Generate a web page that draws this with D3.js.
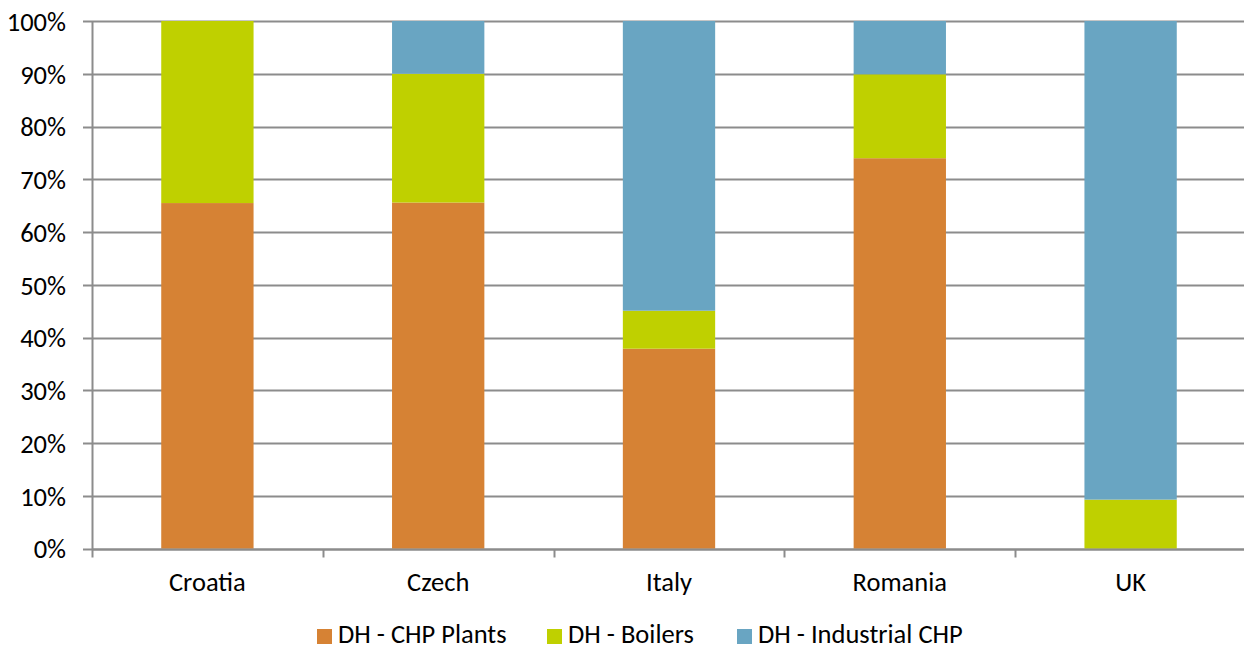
<!DOCTYPE html>
<html>
<head>
<meta charset="utf-8">
<script src="https://cdn.jsdelivr.net/npm/d3@7"></script>
<style>
  html, body { margin: 0; padding: 0; background: #fff; }
  svg { display: block; }
  text { font-family: Carlito, "Open Sans", "Liberation Sans", sans-serif; fill: #000; }
</style>
</head>
<body>
<svg id="chart" width="1244" height="650"></svg>
<script>
// District heating production shares by country (percent)
const countries = ["Croatia", "Czech", "Italy", "Romania", "UK"];
const chpPlants = [65.5, 65.6, 37.9, 74.0, 0];
const boilers = [34.5, 24.4, 7.2, 15.9, 9.3];
const industrialChp = [0, 10.0, 54.9, 10.1, 90.7];
const yTicks = [0, 10, 20, 30, 40, 50, 60, 70, 80, 90, 100];

const seriesNames = ["DH - CHP Plants", "DH - Boilers", "DH - Industrial CHP"];
const seriesColors = ["#D68234", "#BFD000", "#69A5C2"];

const rows = countries.map((c, i) => ({
  country: c,
  "DH - CHP Plants": chpPlants[i],
  "DH - Boilers": boilers[i],
  "DH - Industrial CHP": industrialChp[i]
}));

const FONT = "26.5px";
const svg = d3.select("#chart");
const margin = { left: 92, right: 0, top: 21, bottom: 102 };
const W = 1244, H = 650;
const plotW = 1246 - margin.left;
const plotH = H - margin.top - margin.bottom;

const g = svg.append("g").attr("transform", `translate(${margin.left},${margin.top})`);

const x = d3.scaleBand().domain(countries).range([0, plotW]).paddingInner(0.6).paddingOuter(0.3);
const y = d3.scaleLinear().domain([0, 100]).range([plotH + 0.7, 0]);

// Horizontal gridlines
g.append("g")
  .selectAll("line")
  .data(yTicks)
  .join("line")
  .attr("x1", -9)
  .attr("x2", plotW)
  .attr("y1", d => Math.round(y(d)) + 0.5)
  .attr("y2", d => Math.round(y(d)) + 0.5)
  .attr("stroke", "#8c8c8c")
  .attr("stroke-width", 2);

// Y axis labels
const yAxis = d3.axisLeft(y).tickValues(yTicks).tickFormat(d => d + "%").tickSize(0).tickPadding(26);
const yG = g.append("g").call(yAxis);
yG.select(".domain").remove();
yG.selectAll("text").style("font-size", FONT).attr("dy", "0.35em");

// Stacked bars
const stack = d3.stack().keys(seriesNames);
const layers = stack(rows);

g.append("g")
  .selectAll("g")
  .data(layers)
  .join("g")
  .attr("fill", (d, i) => seriesColors[i])
  .selectAll("rect")
  .data(d => d)
  .join("rect")
  .attr("x", d => x(d.data.country))
  .attr("width", x.bandwidth())
  .attr("y", d => y(d[1]))
  .attr("height", d => Math.max(0, y(d[0]) - y(d[1])));

// Y axis line
g.append("line")
  .attr("x1", 0.5).attr("x2", 0.5)
  .attr("y1", 0).attr("y2", Math.round(y(0)) + 0.5)
  .attr("stroke", "#8c8c8c").attr("stroke-width", 2);

// X axis line and category ticks
const baseY = Math.round(y(0)) + 0.5;
g.append("line")
  .attr("x1", 0).attr("x2", plotW)
  .attr("y1", baseY).attr("y2", baseY)
  .attr("stroke", "#8c8c8c").attr("stroke-width", 2);

const boundaries = d3.range(countries.length + 1).map(i => i * plotW / countries.length);
g.append("g")
  .selectAll("line")
  .data(boundaries)
  .join("line")
  .attr("x1", d => Math.round(d) + 0.5)
  .attr("x2", d => Math.round(d) + 0.5)
  .attr("y1", baseY)
  .attr("y2", baseY + 8)
  .attr("stroke", "#8c8c8c").attr("stroke-width", 2);

// Category labels
g.append("g")
  .selectAll("text")
  .data(countries)
  .join("text")
  .attr("x", d => x(d) + x.bandwidth() / 2)
  .attr("y", baseY + 41)
  .attr("text-anchor", "middle")
  .style("font-size", FONT)
  .text(d => d);

// Legend
const legendX = [317, 547, 737];
const legend = svg.append("g");
seriesNames.forEach((name, i) => {
  legend.append("rect")
    .attr("x", legendX[i]).attr("y", 629)
    .attr("width", 15).attr("height", 15)
    .attr("fill", seriesColors[i]);
  legend.append("text")
    .attr("x", legendX[i] + 21).attr("y", 643)
    .style("font-size", FONT)
    .text(name);
});
</script>
</body>
</html>
